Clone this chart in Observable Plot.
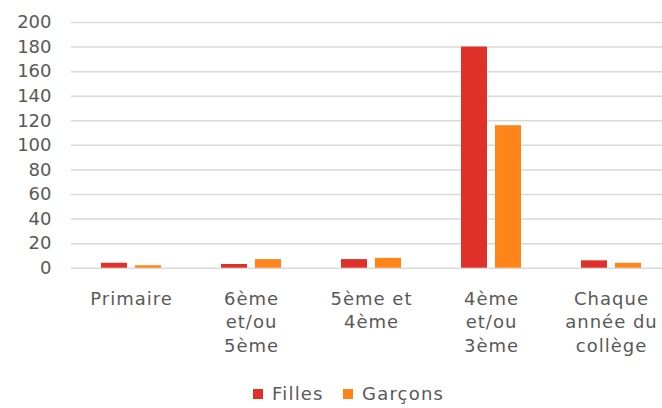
<!DOCTYPE html>
<html><head><meta charset="utf-8">
<script src="https://cdn.jsdelivr.net/npm/d3@7"></script>
<script src="https://cdn.jsdelivr.net/npm/@observablehq/plot@0.6"></script>
<style>
html,body{margin:0;padding:0;background:#fff;overflow:hidden;}
body{font-family:"DejaVu Sans",sans-serif;width:662px;}
#legend{position:relative;height:38px;font-size:18px;color:#595959;letter-spacing:1.2px;}
.item{position:absolute;top:15px;display:flex;align-items:center;line-height:18px;}
.sw{width:10px;height:10px;margin-right:9px;}
g[aria-label="fx-axis tick label"] text{letter-spacing:1px;}
</style></head><body><div id="chart"></div><div id="legend"></div>
<script>
const categories = ["Primaire", "6ème\net/ou\n5ème", "5ème et\n4ème", "4ème\net/ou\n3ème", "Chaque\nannée du\ncollège"];
const series = ["Filles", "Garçons"];
const filles = [4, 3, 7, 180, 6];
const garcons = [2, 7, 8, 116, 4];
const colors = ["#E0302A", "#FF841A"];
const yTicks = [0, 20, 40, 60, 80, 100, 120, 140, 160, 180, 200];

const data = categories.flatMap((c, i) => [
  {cat: c, serie: series[0], value: filles[i]},
  {cat: c, serie: series[1], value: garcons[i]}
]);

const plot = Plot.plot({
  width: 662, height: 370,
  marginLeft: 70, marginRight: -10, marginTop: 22, marginBottom: 102.3,
  style: {fontFamily: "'DejaVu Sans', sans-serif", fontSize: "18px", color: "#595959", background: "#fff", overflow: "hidden"},
  fx: {domain: categories, padding: 0, label: null},
  x: {domain: series, paddingInner: 0.23, paddingOuter: 0.834, axis: null},
  y: {domain: [0, 200], label: null},
  color: {domain: series, range: colors},
  marks: [
    Plot.gridY(yTicks, {stroke: "#d9d9d9", strokeOpacity: 1, strokeWidth: 1.5}),
    Plot.axisY(yTicks, {tickSize: 0, tickPadding: 20, label: null, fontSize: 18, fill: "#595959"}),
    Plot.axisFx({anchor: "bottom", tickSize: 0, tickPadding: 20, label: null, lineHeight: 1.3, fontSize: 18, fill: "#595959"}),
    Plot.barY(data, {fx: "cat", x: "serie", y: "value", fill: "serie"})
  ]
});
document.getElementById("chart").appendChild(plot);

const legend = document.getElementById("legend");
const lefts = [253, 343];
series.forEach((s, i) => {
  const it = document.createElement("div");
  it.className = "item";
  it.style.left = lefts[i] + "px";
  it.innerHTML = `<span class="sw" style="background:${colors[i]}"></span><span>${s}</span>`;
  legend.appendChild(it);
});
</script></body></html>
